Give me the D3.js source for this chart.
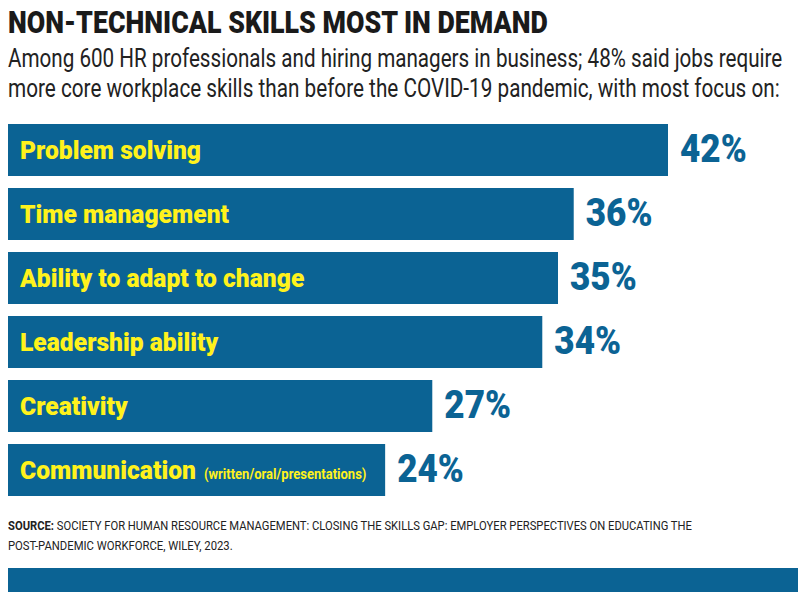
<!DOCTYPE html>
<html><head><meta charset="utf-8">
<script src="https://cdn.jsdelivr.net/npm/d3@7"></script>
<style>
html,body{margin:0;padding:0;background:#fff;}
svg{display:block;}
</style></head>
<body>
<svg id="chart" width="806" height="604"></svg>
<script>
const titleText = "NON-TECHNICAL SKILLS MOST IN DEMAND";
const subtitleLines = [
  "Among 600 HR professionals and hiring managers in business; 48% said jobs require",
  "more core workplace skills than before the COVID-19 pandemic, with most focus on:"
];
const categories = ["Problem solving", "Time management", "Ability to adapt to change", "Leadership ability", "Creativity", "Communication"];
const categoryNotes = ["", "", "", "", "", "(written/oral/presentations)"];
const values = [42, 36, 35, 34, 27, 24];
const sourceLines = [
  ["SOURCE:", " SOCIETY FOR HUMAN RESOURCE MANAGEMENT: CLOSING THE SKILLS GAP: EMPLOYER PERSPECTIVES ON EDUCATING THE"],
  ["", "POST-PANDEMIC WORKFORCE, WILEY, 2023."]
];

const BLUE = "#0b6394";
const YELLOW = "#fff21c";
const FONT = "Roboto, 'Liberation Sans', sans-serif";
const svg = d3.select("#chart");

// Draw text squeezed horizontally (condensed look) via transform.
function condText(parent, x, y, build, opt) {
  const t = parent.append("text").attr("x", 0).attr("y", 0).attr("font-family", FONT);
  build(t);
  const nat = t.node().getComputedTextLength();
  const s = opt.width ? opt.width / nat : opt.factor;
  t.attr("transform", `translate(${x},${y}) scale(${s},1)`);
  return { node: t, width: nat * s };
}

// Title
condText(svg, 8, 33, t => t.attr("font-weight", 900).attr("font-size", 31)
  .attr("fill", "#1a1a1a").text(titleText), { width: 540 });

// Subtitle
const subW = [775, 772];
subtitleLines.forEach((s, i) => {
  condText(svg, 8, 67 + i * 30, t => t.attr("font-weight", 400).attr("font-size", 25)
    .attr("fill", "#222").text(s), { width: subW[i] });
});

// Scales
const x = d3.scaleLinear().domain([0, 42]).range([8, 668]);
const y = d3.scaleBand().domain(categories).range([124, 496]).paddingInner(0.1875).paddingOuter(0);

const g = svg.append("g");
g.selectAll("rect.bar").data(categories).join("rect")
  .attr("class", "bar")
  .attr("x", x(0)).attr("y", d => y(d))
  .attr("width", (d, i) => x(values[i]) - x(0))
  .attr("height", y.bandwidth())
  .attr("fill", BLUE);

// Category labels + notes
const labelFs = 26.5;
categories.forEach((c, i) => {
  const by = y(c) + y.bandwidth() / 2 + labelFs * 0.355;
  const lab = condText(g, 20, by, t => t.attr("font-weight", 900).attr("font-size", labelFs)
    .attr("fill", YELLOW).text(c), { factor: 0.93 });
  if (categoryNotes[i]) {
    condText(g, 20 + lab.width + 8, by, t => t.attr("font-weight", 700).attr("font-size", 14)
      .attr("fill", YELLOW).text(categoryNotes[i]), { factor: 0.93 });
  }
});

// Values
const valFs = 39;
categories.forEach((c, i) => {
  condText(g, x(values[i]) + 12, y(c) + y.bandwidth() / 2 + valFs * 0.355 - 2,
    t => t.attr("font-weight", 900).attr("font-size", valFs).attr("fill", BLUE).text(values[i] + "%"),
    { factor: 0.9 });
});

// Source
const srcW = [685, 225];
sourceLines.forEach((parts, i) => {
  condText(svg, 8, 530 + i * 19.5, t => {
    t.attr("font-size", 13).attr("fill", "#222");
    if (parts[0]) t.append("tspan").attr("font-weight", 700).text(parts[0]);
    t.append("tspan").attr("font-weight", 400).text(parts[1]);
  }, { width: srcW[i] });
});

// Bottom band
svg.append("rect").attr("x", 8).attr("y", 568).attr("width", 790).attr("height", 24).attr("fill", BLUE);
</script>
</body></html>
